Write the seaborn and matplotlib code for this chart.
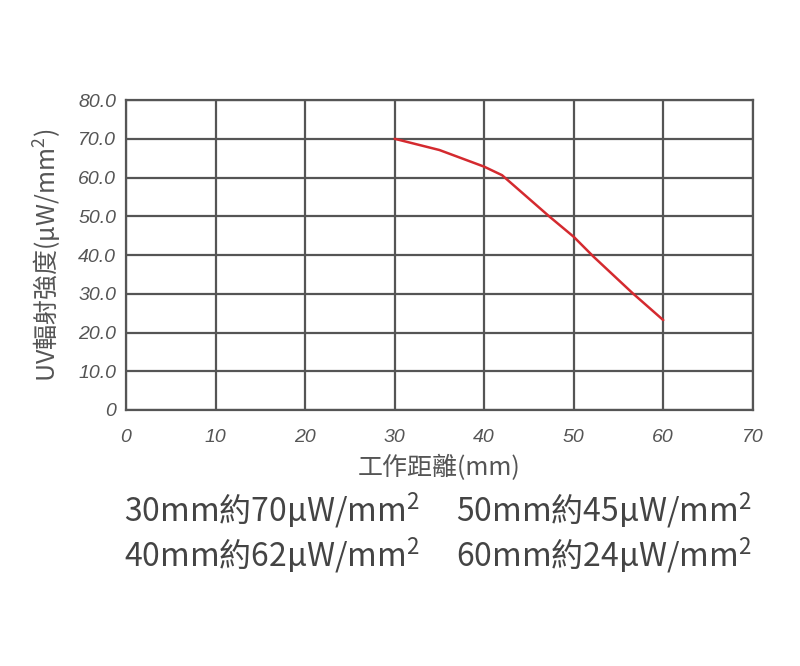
#!/usr/bin/env python3
# coding: utf-8

import numpy as np
import pandas as pd
import matplotlib
matplotlib.use("Agg")
import matplotlib.pyplot as plt
import seaborn as sns

# data
distance_mm = [30, 35, 40, 42, 47.3, 50, 52.2, 56.6, 60]
intensity = [70.0, 67.1, 62.8, 60.6, 49.9, 44.7, 39.6, 30.1, 23.2]
x_ticks = [0, 10, 20, 30, 40, 50, 60, 70]
y_ticks = [0, 10, 20, 30, 40, 50, 60, 70, 80]
y_tick_labels = ["0", "10.0", "20.0", "30.0", "40.0", "50.0", "60.0", "70.0", "80.0"]
notes = ["30mm約70μW/mm$^2$", "50mm約45μW/mm$^2$",
         "40mm約62μW/mm$^2$", "60mm約24μW/mm$^2$"]

grid_col = "#555555"
text_col = "#555555"
cjk = ["Noto Sans CJK TC", "DejaVu Sans"]

sns.set_theme(style="white")
plt.rcParams["font.family"] = cjk
plt.rcParams["mathtext.fontset"] = "custom"
plt.rcParams["mathtext.rm"] = "Noto Sans CJK TC"
plt.rcParams["mathtext.it"] = "Noto Sans CJK TC"
plt.rcParams["mathtext.default"] = "regular"

df = pd.DataFrame({"dist": distance_mm, "uv": intensity})

fig = plt.figure(figsize=(8, 6.66), dpi=100)
ax = fig.add_axes([0.1575, 0.3844, 0.7835, 0.4654])
sns.lineplot(data=df, x="dist", y="uv", ax=ax, color="#d42a2f", lw=1.8)

ax.set_xlim(0, 70)
ax.set_ylim(0, 80)
ax.set_xticks(x_ticks)
ax.set_yticks(y_ticks)
ax.set_yticklabels(y_tick_labels)
ax.grid(True, color=grid_col, lw=1.6)
ax.set_axisbelow(True)
for s in ax.spines.values():
    s.set_color(grid_col)
    s.set_linewidth(1.6)
ax.tick_params(length=0, pad=7)
ax.tick_params(axis="x", pad=14)
for lab in ax.get_xticklabels() + ax.get_yticklabels():
    lab.set_fontfamily("Liberation Sans")
    lab.set_fontstyle("italic")
    lab.set_fontsize(14)
    lab.set_color(text_col)

ax.set_xlabel("工作距離(mm)", fontsize=18, color=text_col, labelpad=6,
              fontweight="light")
ax.set_ylabel("UV輻射強度(μW/mm$^2$)", fontsize=18, color=text_col, labelpad=10,
              fontweight="light")

xs = [124 / 800, 456 / 800]
ys = [1 - 510 / 666, 1 - 555 / 666]
for i, t in enumerate(notes):
    fig.text(xs[i % 2], ys[i // 2], t, fontsize=23, color="#444444",
             ha="left", va="center", family=cjk, fontweight="light")

fig.savefig("out.png", dpi=100, facecolor="white")
